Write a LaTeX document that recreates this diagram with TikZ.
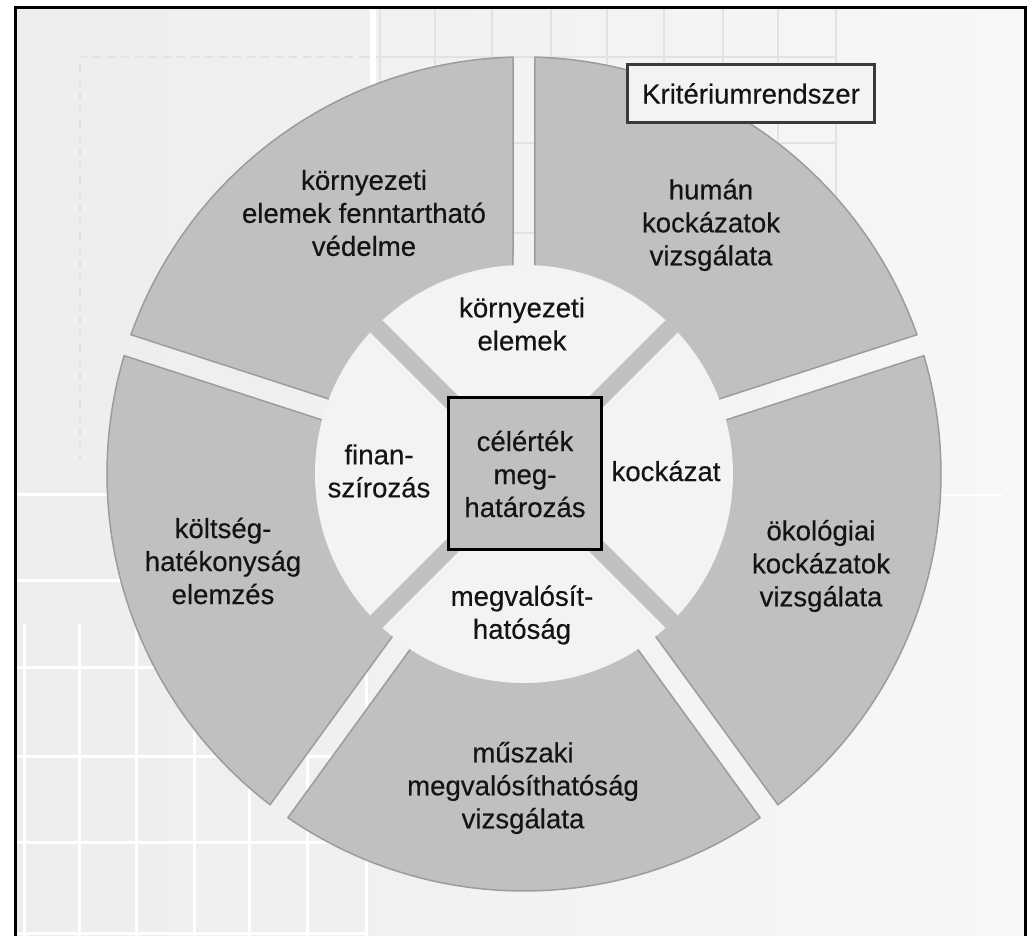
\documentclass[tikz,border=0pt]{standalone}
\usepackage{fontspec}
\setmainfont{Liberation Sans}[FakeBold=0.35]
\definecolor{ringgray}{HTML}{C0C0C0}
\definecolor{ringedge}{HTML}{9C9C9C}
\definecolor{lightseg}{HTML}{F3F3F3}
\definecolor{txt}{HTML}{141414}
\definecolor{bgleft}{HTML}{EDEDED}
\definecolor{bgright}{HTML}{F7F7F7}
\definecolor{gridfaint}{HTML}{E2E2E2}
\definecolor{boxedge}{HTML}{3A3A3A}
\tikzset{
  sector/.style={fill=ringgray, draw=ringedge, line width=1.5pt, line join=miter},
  lbl/.style={align=center, text=txt, font=\fontsize{27.6pt}{33pt}\selectfont, inner sep=0pt},
  centerbox/.style={draw=black, fill=ringgray, line width=3pt, minimum width=153pt, minimum height=152pt},
  titlebox/.style={draw=boxedge, fill=lightseg, line width=3pt, minimum width=247pt, minimum height=58pt},
  faintgrid/.style={draw=gridfaint, line width=2pt},
  whitegrid/.style={draw=white, line width=3pt},
  framefine/.style={draw=black, line width=3pt}
}
\begin{document}
\begin{tikzpicture}
\useasboundingbox (-524pt,-462pt) rectangle (510pt,474pt);
\fill[white] (-524pt,-462pt) rectangle (510pt,474pt);
% background
\shade[left color=bgleft, right color=bgright] (-508.5pt,-462pt) rectangle (501.5pt,466pt);
% faint top grid
\foreach \x in {-144,-89,-32,27,83,140,199,254,312}
  \draw[faintgrid] (\x pt,466pt) -- (\x pt,241pt);
\foreach \y in {417,331,241}
  \draw[faintgrid] (-157pt,\y pt) -- (312pt,\y pt);
\draw[white, line width=6pt] (-151pt,466pt) -- (-151pt,74pt);
% dashed faint rectangle top left
\draw[gridfaint, line width=1.5pt, dash pattern=on 8pt off 6pt] (-157pt,417pt) -- (-444pt,417pt) -- (-444pt,14pt);
% bottom-left white grid
\foreach \x in {-499,-444,-387,-329,-274,-216,-157}
  \draw[whitegrid] (\x pt,-150pt) -- (\x pt,-462pt);
\foreach \y in {-21,-107,-194,-283,-369,-459}
  \draw[whitegrid] (-509pt,\y pt) -- (-157pt,\y pt);
\draw[white, line width=2pt] (417pt,-21pt) -- (478pt,-21pt);
% outer ring sectors
\foreach \a in {18,90,162,234,306}{
  \pgfmathsetmacro{\b}{\a+72}
  \draw[sector] ({\a+3.076}:205pt) -- ({\a+1.512}:417pt)
    arc[start angle={\a+1.512}, end angle={\b-1.512}, radius=417pt]
    -- ({\b-3.076}:205pt)
    arc[start angle={\b-3.076}, end angle={\a+3.076}, radius=205pt] -- cycle;
}
% inner light disc and gray diagonal bands
\fill[lightseg] (0,0) circle[radius=209pt];
\begin{scope}
  \clip (0,0) circle[radius=209pt];
  \foreach \d in {45,135,225,315}
    \draw[ringgray, line width=17pt] (0,0) -- (\d:240pt);
\end{scope}
% centre
\node[centerbox, lbl] (goal) at (1pt,0pt) {célérték\\meg-\\határozás};
% inner labels
\node[lbl] (inEnv) at (-2pt,150pt) {környezeti\\elemek};
\node[lbl] (inFin) at (-145pt,3pt) {finan-\\szírozás};
\node[lbl] (inRisk) at (142pt,3pt) {kockázat};
\node[lbl] (inFeas) at (-2pt,-141pt) {megvalósít-\\hatóság};
% outer labels
\node[lbl] (outEnv) at (-160pt,261pt) {környezeti\\elemek fenntartható\\védelme};
\node[lbl] (outHum) at (187pt,249pt) {humán\\kockázatok\\vizsgálata};
\node[lbl] (outEco) at (297pt,-92pt) {ökológiai\\kockázatok\\vizsgálata};
\node[lbl] (outTech) at (-1pt,-314pt) {műszaki\\megvalósíthatóság\\vizsgálata};
\node[lbl] (outCost) at (-301pt,-87pt) {költség-\\hatékonyság\\elemzés};
% title box
\node[titlebox, lbl] (title) at (227pt,380.5pt) {Kritériumrendszer};
% frame
\draw[framefine] (-508.5pt,-462pt) -- (-508.5pt,466pt) -- (501.5pt,466pt) -- (501.5pt,-462pt);
\end{tikzpicture}
\end{document}
